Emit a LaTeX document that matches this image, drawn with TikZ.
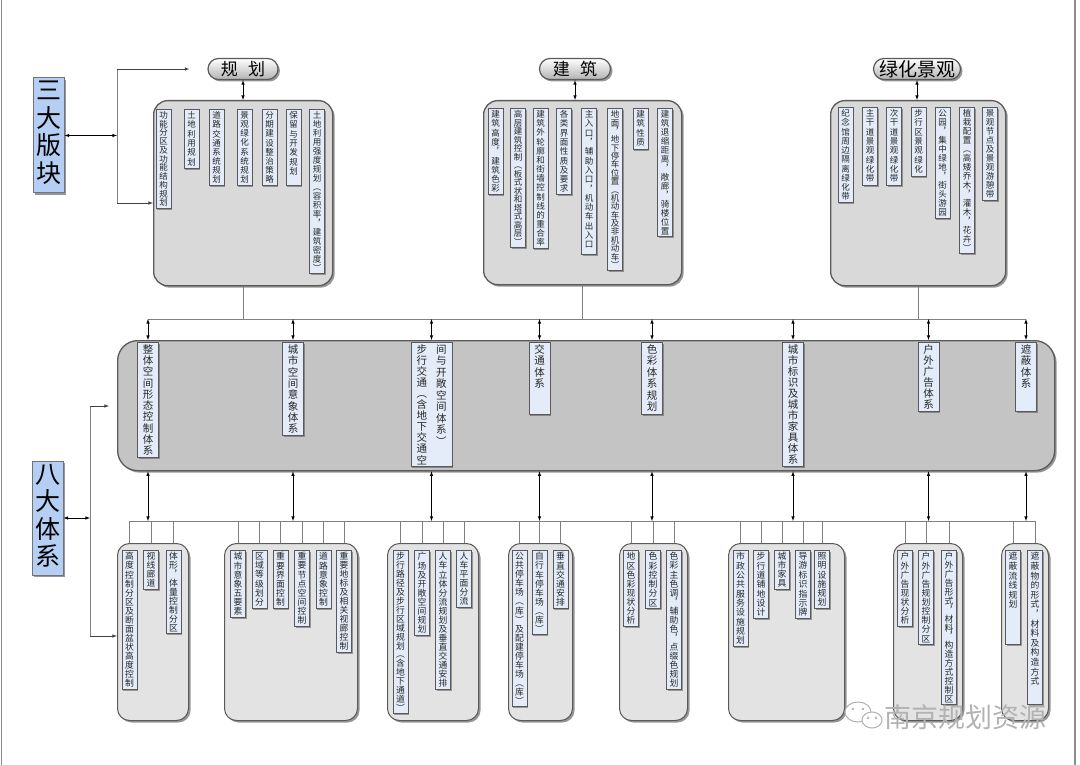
\documentclass[tikz,border=0pt]{standalone}
\usepackage{fontspec}
\newfontfamily\cjk{Noto Sans CJK SC}
\usetikzlibrary{shadows,shapes.misc}
\definecolor{itemfill}{HTML}{E4ECF9}
\definecolor{labfill}{HTML}{B5CEF4}
\definecolor{grpline}{HTML}{5A5A5A}
\def\vtloop#1{\ifx#1\relax\else\hbox to 1em{\hss#1\hss}\expandafter\vtloop\fi}
\newcommand\vt[3]{\vbox to #2{\baselineskip=#1 minus 1.3pt\lineskiplimit=-50pt\lineskip=0pt\expandafter\vtloop#3\relax\vfil}}
\tikzset{
  shd/.style={drop shadow={shadow xshift=2pt,shadow yshift=-2pt,opacity=.55,fill=black!75}},
  grp/.style={draw=grpline,line width=1.3pt,fill=black!15,rounded corners=14pt,inner sep=0pt,shd},
  band/.style={grp,fill=black!23,rounded corners=20pt},
  bgrp/.style={grp,fill=black!11,rounded corners=12pt,line width=1pt},
  itm/.style={draw=black!65,line width=1pt,fill=itemfill,inner sep=2pt,minimum width=15,text=black!85,
    drop shadow={shadow xshift=1.2pt,shadow yshift=-1.2pt,opacity=.5,fill=black!70}},
  titm/.style={itm,font=\cjk\fontsize{8.5}{9}\selectfont},
  mitm/.style={itm,font=\cjk\fontsize{10.5}{11}\selectfont,minimum width=21},
  bitm/.style={itm,font=\cjk\fontsize{8.8}{9}\selectfont},
  pill/.style={rounded rectangle,draw=grpline,line width=1.2pt,top color=white,bottom color=black!30,
    font=\cjk\fontsize{17}{18}\selectfont,inner sep=0pt,minimum height=21,shd},
  lab/.style={draw=black!55,line width=1pt,fill=labfill,font=\cjk\fontsize{25}{26}\selectfont,inner sep=3pt,shd},
  bus/.style={draw=black!50,line width=.8pt},
  dbl/.style={<->,black,line width=.6pt},
  arr/.style={->,black!75,line width=.6pt}
}
\begin{document}
\begin{tikzpicture}[x=1pt,y=-1pt,>=latex]
    \useasboundingbox (0,0) rectangle (1080,765);
    \draw[black!45,line width=1.5pt] (1.5,0) -- (1.5,765) (1075,0) -- (1075,765);

    \node[grp,minimum width=179,minimum height=185,anchor=north west] (gplan) at (153,100) {};
    \node[grp,minimum width=198,minimum height=184,anchor=north west] (garch) at (483,100) {};
    \node[grp,minimum width=175,minimum height=185,anchor=north west] (ggreen) at (830,100) {};

    \node[pill,minimum width=70] (pplan) at (243,69) {规\hspace{.6em}划};
    \node[pill,minimum width=71] (parch) at (575,69) {建\hspace{.6em}筑};
    \node[pill,minimum width=87,font=\cjk\fontsize{19}{20}\selectfont] (pgreen) at (917,69) {绿化景观};

    \foreach \x/\b/\txt [count=\i] in {163.5/208/功能分区及功能结构规划,191.5/168/土地利用规划,
        216.5/185/道路交通系统规划,244.5/185/景观绿化系统规划,269.5/185/分期建设整治策略,
        293.5/185/保留与开发规划,317/273/土地利用强度规划︵容积率︐建筑密度︶} {
        \pgfmathsetmacro\hh{\b-109-4}
        \node[titm,anchor=north] (p\i) at (\x,109) {\vt{9.3pt}{\hh pt}{\txt}};
    }
    \foreach \x/\b/\txt [count=\i] in {495.5/194/建筑高度︐建筑色彩,518/247/高层建筑控制︵板式状和塔式高层︶,
        540.5/248/建筑外轮廓和街墙控制线的重合率,564/194/各类界面性质及要求,
        589/254/主入口︐辅助入口︐机动车出入口,615/270/地面︐地下停车位置︵机动车及非机动车︶,
        640.5/149/建筑性质,665/236/建筑退缩距离︐敞廊︐骑楼位置} {
        \pgfmathsetmacro\hh{\b-108-4}
        \node[titm,anchor=north] (a\i) at (\x,108) {\vt{9.3pt}{\hh pt}{\txt}};
    }
    \foreach \x/\b/\txt [count=\i] in {845.5/202/纪念馆周边隔离绿化带,870/185/主干道景观绿化带,
        894/185/次干道景观绿化带,918.5/176/步行区景观绿化,942.5/218/公园︐集中绿地︐街头游园,
        967/253/植栽配置︵高矮乔木︐灌木︐花卉︶,990/200/景观节点及景观游憩带} {
        \pgfmathsetmacro\hh{\b-107-4}
        \node[titm,anchor=north] (v\i) at (\x,107) {\vt{9.3pt}{\hh pt}{\txt}};
    }

    \node[band,minimum width=937,minimum height=130,anchor=north west] (band) at (117,340) {};
    \foreach \x/\b/\txt/\nm in {148/457/整体空间形态控制体系/m1,293/435/城市空间意象体系/m2,
        539.5/414/交通体系/m4,652/414/色彩体系规划/m5,793/466/城市标识及城市家具体系/m6,
        928.5/411/户外广告体系/m7,1026/411/遮蔽体系/m8} {
        \pgfmathsetmacro\hh{\b-342-4}
        \node[mitm,anchor=north] (\nm) at (\x,342) {\vt{11.5pt}{\hh pt}{\txt}};
    }
    \node[mitm,anchor=north,minimum width=41] (m3) at (431.5,342)
        {\vt{11.5pt}{120pt}{步行交通︵含地下交通空}\hspace{9pt}\vt{11.5pt}{120pt}{间与开敞空间体系︶}};

    \foreach \l/\r [count=\i] in {117/188,224/357,387/478,508/572,619/687,728/844,893/962,1001/1048} {
        \pgfmathsetmacro\ww{\r-\l}
        \node[bgrp,minimum width=\ww,minimum height=177,anchor=north west] (g\i) at (\l,543) {};
    }
    \foreach \x/\b/\txt [count=\i] in {129.5/689/高度控制分区及断面盆状高度控制,151/589/视线廊道,
        173.5/633/体形︐体量控制分区,238/617/城市意象五要素,259.5/608/区域等级划分,
        280.5/608/重要界面控制,302/626/重要节点空间控制,323.5/608/道路意象控制,
        344/652/重要地标及相关视廊控制,400.5/713/步行路径及步行区域规划︵含地下通道︶,
        422/635/广场及开敞空间规划,443/689/人车立体分流规划及垂直交通安排,464/607/人车平面分流,
        519.5/706/公共停车场︵库︶及配建停车场︵库︶,539.5/634/自行车停车场︵库︶,560.5/608/垂直交通安排,
        631/626/地区色彩现状分析,653/608/色彩控制分区,674/689/色彩主色调︐辅助色︐点缀色规划,
        740.5/646/市政公共服务设施规划,761/618/步行道铺地设计,782/589/城市家具,
        803/618/导游标识指示牌,822/608/照明设施规划,905/626/户外广告现状分析,
        926/644/户外广告规划控制分区,949/704/户外广告形式︐材料︐构造方式控制区,
        1013/644/遮蔽流线规划,1035/704/遮蔽物的形式︐材料及构造方式} {
        \pgfmathsetmacro\hh{\b-550-4}
        \node[bitm,anchor=north] (b\i) at (\x,550) {\vt{9.6pt}{\hh pt}{\txt}};
    }

    \node[lab] (l3) at (48.5,135.5) {\vt{27.5pt}{109pt}{三大版块}};
    \node[lab] (l8) at (47.5,518) {\vt{27.5pt}{108pt}{八大体系}};

    \coordinate (c3t) at (117,69);
    \coordinate (c3b) at (117,203);
    \draw[bus] (c3t) -- (c3b);
    \draw[dbl] (l3.east) -- (l3.east -| c3t);
    \draw[arr,shorten >=18pt] (c3t) -- (pplan.west);
    \draw[arr] (c3b) -- (c3b -| gplan.west);

    \coordinate (c8t) at (90,406);
    \coordinate (c8b) at (90,636);
    \draw[bus] (c8t) -- (c8b);
    \draw[dbl] (l8.east) -- (l8.east -| c8t);
    \draw[arr,shorten >=8pt] (c8t) -- (c8t -| band.west);
    \draw[arr] (c8b) -- (c8b -| g1.west);

    \foreach \pl/\gr in {pplan/gplan,parch/garch,pgreen/ggreen} {
        \draw[dbl] (\pl.south) -- (\pl.south |- \gr.north);
    }

    \coordinate (busT) at (0,319);
    \draw[bus] (m1.north |- busT) -- (m8.north |- busT);
    \foreach \gr in {gplan,garch,ggreen} {
        \draw[bus] (\gr.south) -- (\gr.south |- busT);
    }
    \foreach \i in {1,...,8} {
        \draw[dbl] (m\i.north |- busT) -- (m\i.north |- band.north);
    }

    \coordinate (busB) at (0,521);
    \draw[bus] (b1.north |- busB) -- (b29.north |- busB);
    \foreach \i in {1,...,29} {
        \draw[bus] (b\i.north |- busB) -- (b\i.north |- g1.north);
    }
    \foreach \i in {1,...,8} {
        \draw[dbl] (m\i |- band.south) -- (m\i |- busB);
    }

    \node[font=\cjk\fontsize{27}{28}\selectfont,text=black!30] (wm) at (965,717) {南京规划资源};
    \draw[black!30,line width=1pt,fill=white] (858,712) ellipse (13 and 10);
    \draw[black!30,line width=1pt,fill=white] (872,720) ellipse (10 and 8);
    \foreach \x/\y in {853/709,863/709,868/718,876/718} {
        \fill[black!30] (\x,\y) circle (1.3);
    }
\end{tikzpicture}
\end{document}
